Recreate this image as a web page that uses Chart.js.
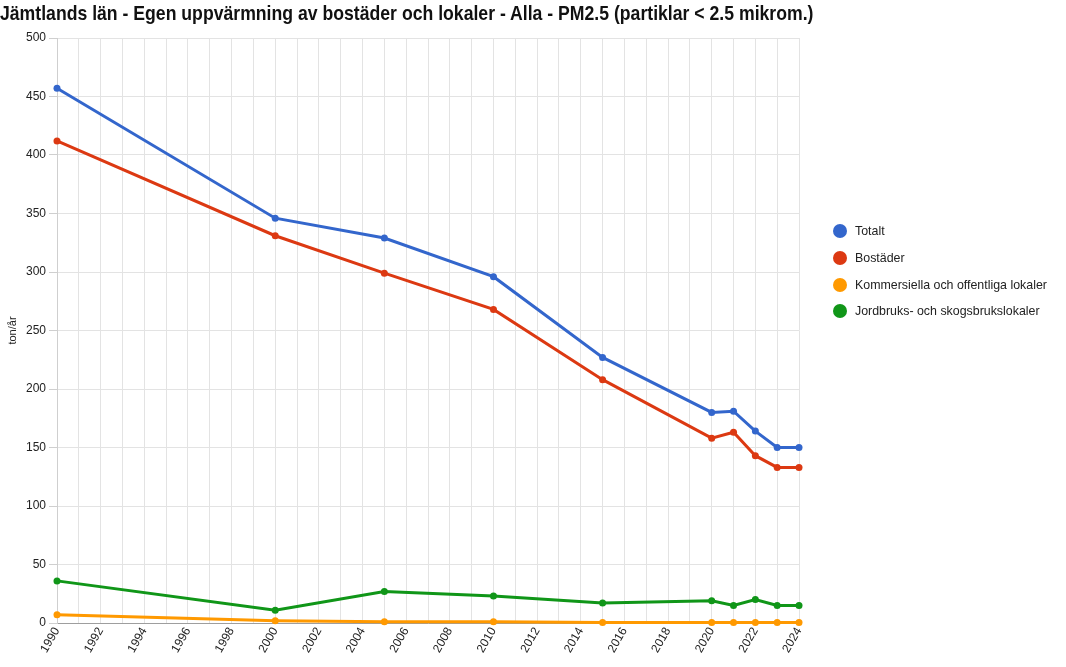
<!DOCTYPE html>
<html>
<head>
<meta charset="utf-8">
<script src="https://cdn.jsdelivr.net/npm/chart.js@4/dist/chart.umd.min.js"></script>
<style>
  body { margin: 0; background: #fff; }
  #wrap { position: relative; width: 1066px; height: 667px; }
  #title { position: absolute; left: 0; top: 1px; white-space: nowrap; font: bold 21px 'Liberation Sans', Arial, sans-serif; color: #111; transform: scaleX(0.84); transform-origin: 0 0; }
  #legend { position: absolute; left: 833px; top: 218px; font: 12.4px 'Liberation Sans', Arial, sans-serif; color: #222; }
  .item { display: flex; align-items: center; height: 26.7px; }
  .dot { width: 14px; height: 14px; border-radius: 50%; margin-right: 8px; }
</style>
</head>
<body>
<div id="wrap">
  <canvas id="chart" width="1066" height="667"></canvas>
  <div id="title">Jämtlands län - Egen uppvärmning av bostäder och lokaler - Alla - PM2.5 (partiklar &lt; 2.5 mikrom.)</div>
  <div id="legend"></div>
</div>
<script>
// data
const years = [1990, 2000, 2005, 2010, 2015, 2020, 2021, 2022, 2023, 2024]
const totalt = [457, 346, 329, 296, 227, 180, 181, 164, 150, 150]
const bostader = [412, 331, 299, 268, 208, 158, 163, 143, 133, 133]
const kommersiella = [7, 2, 1, 1, 0.5, 0.5, 0.5, 0.5, 0.5, 0.5]
const jordbruk = [36, 11, 27, 23, 17, 19, 15, 20, 15, 15]
const seriesNames = ['Totalt', 'Bostäder', 'Kommersiella och offentliga lokaler', 'Jordbruks- och skogsbrukslokaler']
const seriesColors = ['#3366cc', '#dc3912', '#ff9900', '#109618']

const yTicks = [0, 50, 100, 150, 200, 250, 300, 350, 400, 450, 500]

const toPoints = vals => vals.map((v, i) => ({ x: years[i], y: v }))
const allSeries = [totalt, bostader, kommersiella, jordbruk]

const datasets = allSeries.map((vals, i) => ({
  label: seriesNames[i],
  data: toPoints(vals),
  borderColor: seriesColors[i],
  backgroundColor: seriesColors[i],
  borderWidth: 3,
  pointRadius: 3.5,
  pointBorderWidth: 0,
  tension: 0,
  clip: false
}))

const font = "'Liberation Sans', Arial, sans-serif"

new Chart(document.getElementById('chart'), {
  type: 'line',
  data: { datasets },
  options: {
    responsive: false,
    animation: false,
    layout: { padding: { left: 0, right: 267, top: 38, bottom: 0 } },
    plugins: {
      legend: { display: false },
      tooltip: { enabled: false }
    },
    scales: {
      x: {
        type: 'linear',
        min: 1990,
        max: 2024,
        afterFit: s => { s.height = 44 },
        ticks: {
          stepSize: 1,
          autoSkip: false,
          maxRotation: 60,
          minRotation: 60,
          padding: 2,
          color: '#222',
          font: { family: font, size: 12 },
          callback: v => (v % 2 === 0 ? String(v) : '')
        },
        grid: { color: '#e3e3e3', drawTicks: false },
        border: { color: '#9e9e9e' }
      },
      y: {
        min: 0,
        max: 500,
        afterFit: s => { s.width = 57 },
        afterBuildTicks: s => { s.ticks = yTicks.map(v => ({ value: v })) },
        title: { display: true, text: 'ton/år', color: '#222', font: { family: font, size: 11 }, padding: { top: 6, bottom: 0 } },
        ticks: {
          color: '#222',
          font: { family: font, size: 12 },
          padding: 3,
          callback: v => String(v)
        },
        grid: { color: '#e3e3e3', tickLength: 8, tickColor: '#cfcfcf' },
        border: { color: '#cfcfcf' }
      }
    }
  }
})

// html legend built from the same series
const legend = document.getElementById('legend')
seriesNames.forEach((name, i) => {
  const row = document.createElement('div')
  row.className = 'item'
  row.innerHTML = `<span class="dot" style="background:${seriesColors[i]}"></span><span>${name}</span>`
  legend.appendChild(row)
})
</script>
</body>
</html>
